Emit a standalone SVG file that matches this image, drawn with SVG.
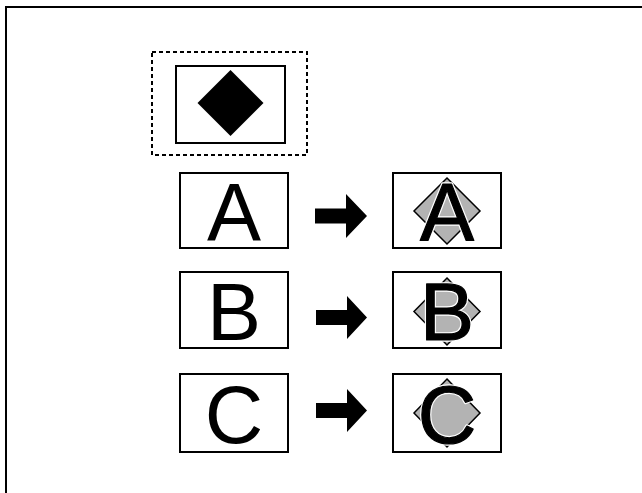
<svg xmlns="http://www.w3.org/2000/svg" width="642" height="493" viewBox="0 0 642 493">
<style>
.box{fill:#fff;stroke:#000;stroke-width:2}
.let{font-family:"Liberation Sans",Arial,sans-serif;font-size:81px;text-anchor:middle;fill:#000}
.halo{fill:#fff;fill-opacity:0;stroke:#fff;stroke-width:3.5;stroke-linejoin:round}
.bold{stroke:#000;stroke-width:1.2;stroke-linejoin:round}
.gd{fill:#b3b3b3;stroke:#000;stroke-width:1.5}
.arr{fill:#000}
</style>
<rect x="0" y="0" width="642" height="493" fill="#fff"/>
<rect id="frame" x="6" y="7" width="700" height="600" fill="none" stroke="#000" stroke-width="2"/>
<g id="legend">
<rect x="152" y="52" width="155" height="103" fill="none" stroke="#000" stroke-width="2" stroke-dasharray="4,3"/>
<rect class="box" x="176" y="66" width="109" height="77"/>
<polygon points="230.5,70 263.5,103 230.5,136 197.5,103" fill="#000"/>
</g>
<g id="nodeA">
<rect class="box" x="180" y="173" width="108" height="75"/>
<text class="let" x="234" y="240">A</text>
</g>
<g id="nodeA2">
<rect class="box" x="393" y="173" width="108" height="75"/>
<polygon class="gd" points="447,178 480,211 447,244 414,211"/>
<text class="let halo" x="447" y="240">A</text>
<text class="let bold" x="447" y="240">A</text>
</g>
<g id="nodeB">
<rect class="box" x="180" y="272" width="108" height="76"/>
<text class="let" x="234" y="340">B</text>
</g>
<g id="nodeB2">
<rect class="box" x="393" y="272" width="108" height="76"/>
<polygon class="gd" points="447,278 480,311.5 447,345 414,311.5"/>
<text class="let halo" x="447" y="340">B</text>
<text class="let bold" x="447" y="340">B</text>
</g>
<g id="nodeC">
<rect class="box" x="180" y="374" width="108" height="78"/>
<text class="let" x="234" y="443">C</text>
</g>
<g id="nodeC2">
<rect class="box" x="393" y="374" width="108" height="78"/>
<polygon class="gd" points="447,379 480,413 447,447 414,413"/>
<text class="let halo" x="447" y="443">C</text>
<text class="let bold" x="447" y="443">C</text>
</g>
<g id="connectors">
<polygon class="arr" points="315,208.5 346,208.5 346,194 367,216 346,238 346,223.5 315,223.5"/>
<polygon class="arr" points="316,310 347,310 347,296 367,317.5 347,339 347,325 316,325"/>
<polygon class="arr" points="316,403 347,403 347,389 367,410.5 347,432 347,418 316,418"/>
</g>
</svg>
